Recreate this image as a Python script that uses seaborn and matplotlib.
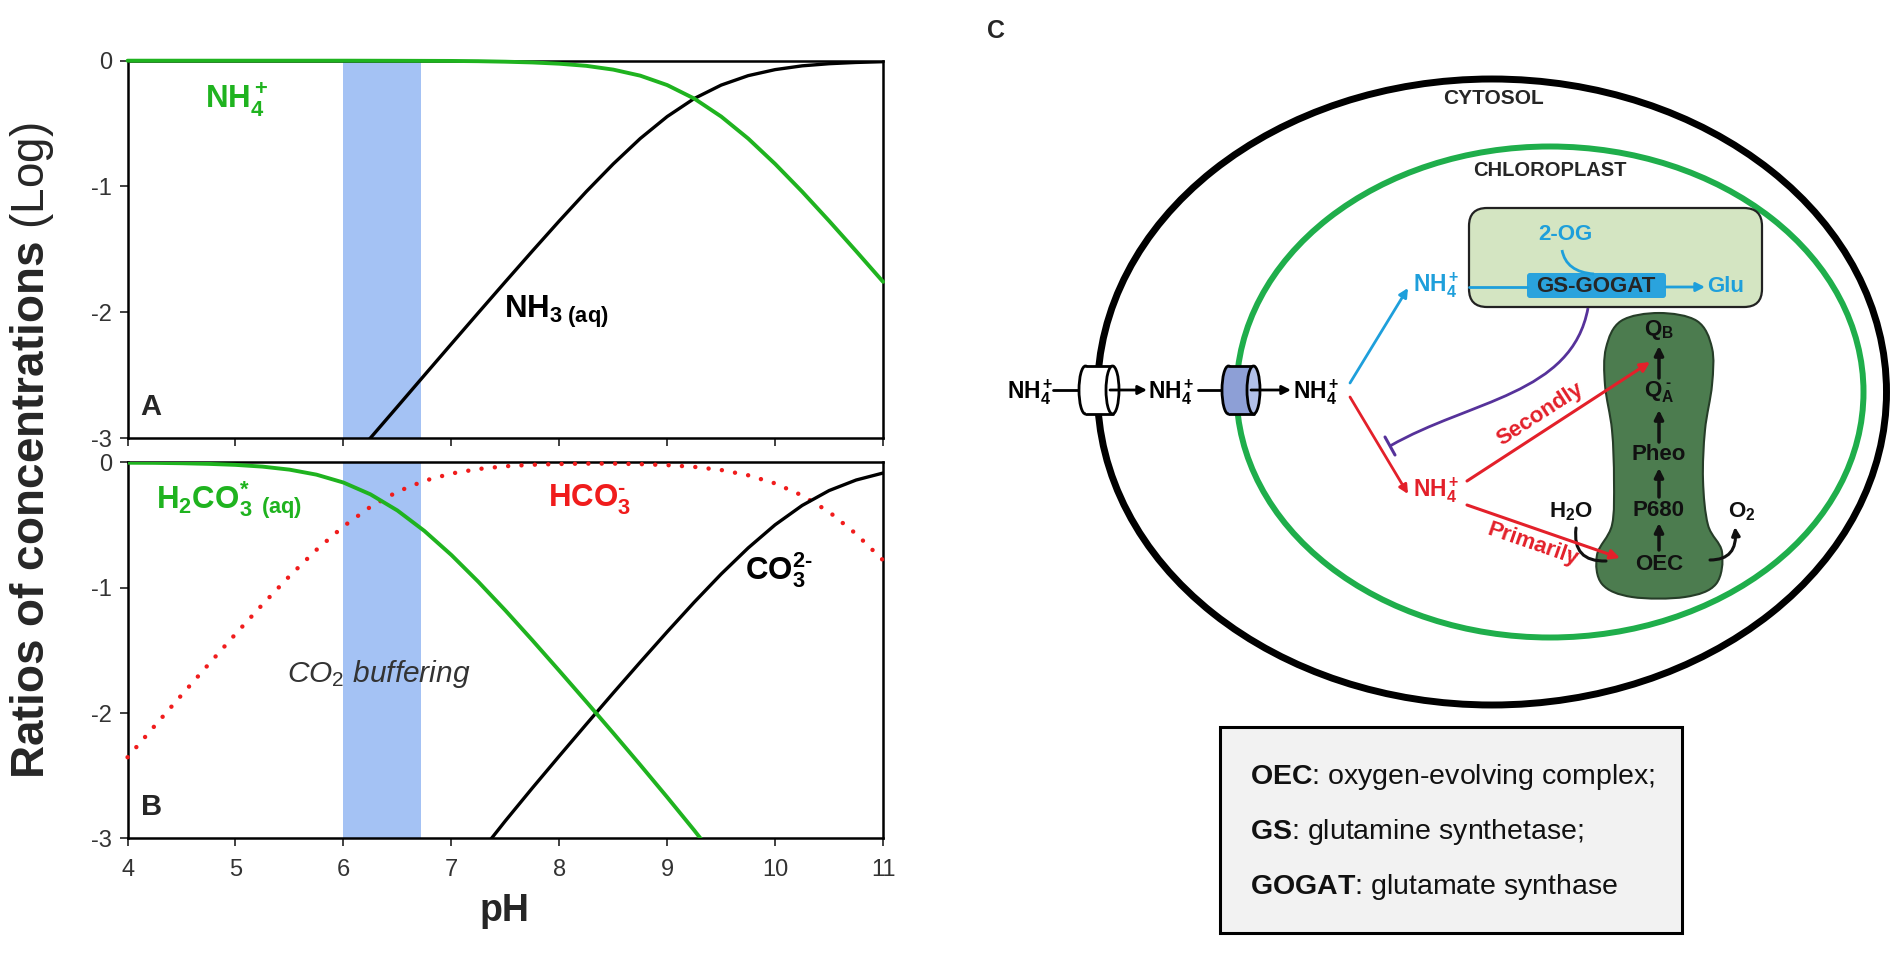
import numpy as np
import pandas as pd
import matplotlib
matplotlib.use("Agg")
import matplotlib.pyplot as plt
import seaborn as sns
from matplotlib.patches import Ellipse, FancyBboxPatch, Rectangle, PathPatch, FancyArrowPatch
from matplotlib.path import Path

# ---------------- data ----------------
ph_full = [4.0, 4.25, 4.5, 4.75, 5.0, 5.25, 5.5, 5.75, 6.0, 6.25, 6.5, 6.75, 7.0, 7.25, 7.5,
           7.75, 8.0, 8.25, 8.5, 8.75, 9.0, 9.25, 9.5, 9.75, 10.0, 10.25, 10.5, 10.75, 11.0]
nh4_log = [0.0, 0.0, 0.0, 0.0, 0.0, 0.0, 0.0, 0.0, 0.0, -0.0004, -0.0008, -0.0014, -0.002,
           -0.004, -0.008, -0.014, -0.024, -0.041, -0.071, -0.119, -0.194, -0.301, -0.444,
           -0.619, -0.821, -1.041, -1.274, -1.514, -1.758]
ph_nh3 = [6.0, 6.25, 6.5, 6.75, 7.0, 7.25, 7.5, 7.75, 8.0, 8.25, 8.5, 8.75, 9.0, 9.25, 9.5,
          9.75, 10.0, 10.25, 10.5, 10.75, 11.0]
nh3_log = [-3.250, -3.000, -2.751, -2.501, -2.252, -2.004, -1.758, -1.514, -1.274, -1.041,
           -0.821, -0.619, -0.444, -0.301, -0.194, -0.119, -0.071, -0.041, -0.024, -0.014, -0.008]

ph_h2co3 = [4.0, 4.25, 4.5, 4.75, 5.0, 5.25, 5.5, 5.75, 6.0, 6.25, 6.5, 6.75, 7.0, 7.25, 7.5,
            7.75, 8.0, 8.25, 8.5, 8.75, 9.0, 9.25, 9.5]
h2co3_log = [-0.002, -0.003, -0.006, -0.011, -0.019, -0.033, -0.057, -0.097, -0.160, -0.254,
             -0.383, -0.546, -0.738, -0.952, -1.180, -1.418, -1.662, -1.909, -2.159, -2.413,
             -2.671, -2.935, -3.210]
hco3_log = [-2.352, -2.103, -1.856, -1.611, -1.369, -1.133, -0.907, -0.697, -0.510, -0.354,
            -0.233, -0.146, -0.088, -0.052, -0.030, -0.018, -0.012, -0.009, -0.009, -0.013,
            -0.021, -0.035, -0.060, -0.102, -0.167, -0.263, -0.394, -0.570, -0.780]
ph_co3 = [7.25, 7.5, 7.75, 8.0, 8.25, 8.5, 8.75, 9.0, 9.25, 9.5, 9.75, 10.0, 10.25, 10.5,
          10.75, 11.0]
co3_log = [-3.132, -2.860, -2.598, -2.342, -2.089, -1.839, -1.593, -1.351, -1.115, -0.890,
           -0.682, -0.497, -0.343, -0.224, -0.140, -0.084]

buffer_range = [6.0, 6.72]
x_ticks = [4, 5, 6, 7, 8, 9, 10, 11]
y_ticks = [0, -1, -2, -3]
y_ticklabels = ["0", "-1", "-2", "-3"]

HY = "\u2010"  # short hyphen used for charges
legend_terms = ["OEC", "GS", "GOGAT"]
legend_defs = ["oxygen-evolving complex;", "glutamine synthetase;", "glutamate synthase"]
ps_chain = [r"$\mathbf{Q_B}$", r"$\mathbf{Q_A^{\ " + HY + r"}}$", "Pheo", "P680", "OEC"]

# ---------------- style ----------------
sns.set_theme(style="ticks")
plt.rcParams['font.family'] = ['Liberation Sans', 'DejaVu Sans']
plt.rcParams['mathtext.fontset'] = 'custom'
plt.rcParams['mathtext.rm'] = 'Liberation Sans'
plt.rcParams['mathtext.it'] = 'Liberation Sans:italic'
plt.rcParams['mathtext.bf'] = 'Liberation Sans:bold'
plt.rcParams['axes.unicode_minus'] = False

GREEN = '#1fb31f'
RED = '#f01c1c'
BAND = '#a4c2f4'
LBL = 22.5

fig = plt.figure(figsize=(19.04, 9.71), dpi=100)
axA = fig.add_axes([0.0670, 0.5489, 0.3968, 0.3886])
axB = fig.add_axes([0.0670, 0.1365, 0.3968, 0.3872])

for ax in (axA, axB):
    ax.set_facecolor('white')
    ax.axvspan(buffer_range[0], buffer_range[1], color=BAND, lw=0, zorder=0)
    ax.set_xlim(4, 11)
    ax.set_ylim(-3, 0)
    ax.set_xticks(x_ticks)
    ax.set_yticks(y_ticks)
    ax.set_yticklabels(y_ticklabels)
    for s in ax.spines.values():
        s.set_visible(True)
        s.set_linewidth(1.8)
        s.set_color('black')
    ax.tick_params(axis='both', direction='out', length=6, width=1.3, colors='#333333',
                   labelsize=17, pad=5)
    ax.set_xlabel('')
    ax.set_ylabel('')
    ax.grid(False)

axA.tick_params(axis='x', labelbottom=False)
axB.tick_params(axis='x', pad=9)

# Panel A curves
sns.lineplot(x=ph_full, y=nh4_log, ax=axA, color=GREEN, lw=2.8, clip_on=False, zorder=4)
sns.lineplot(x=ph_nh3, y=nh3_log, ax=axA, color='black', lw=2.4, zorder=3)
axA.text(4.72, -0.31, r"$\mathbf{NH_4^+}$", color=GREEN, fontsize=LBL, ha='left', va='center')
axA.text(7.49, -2.0, r"$\mathbf{NH_{3\ (aq)}}$", color='black', fontsize=LBL, ha='left', va='center')
axA.text(4.12, -2.75, "A", fontsize=21, fontweight='bold', ha='left', va='center')

# Panel B curves
sns.lineplot(x=ph_h2co3, y=h2co3_log, ax=axB, color=GREEN, lw=2.8, zorder=4)
sns.lineplot(x=ph_full, y=hco3_log, ax=axB, color=RED, lw=3.2, clip_on=False, zorder=3,
             linestyle=(0, (0.01, 3.0)), dash_capstyle='round')
sns.lineplot(x=ph_co3, y=co3_log, ax=axB, color='black', lw=2.4, zorder=3)
axB.text(4.26, -0.30, r"$\mathbf{H_2CO_3^{*}\ {}_{(aq)}}$", color=GREEN, fontsize=LBL,
         ha='left', va='center')
axB.text(7.90, -0.30, r"$\mathbf{HCO_3^{" + HY + r"}}$", color=RED, fontsize=LBL,
         ha='left', va='center')
axB.text(9.72, -0.86, r"$\mathbf{CO_3^{2" + HY + r"}}$", color='black', fontsize=LBL,
         ha='left', va='center')
axB.text(5.48, -1.69, r"$\mathit{CO_2\ buffering}$", color='#333333', fontsize=21.5,
         ha='left', va='center')
axB.text(4.12, -2.75, "B", fontsize=21, fontweight='bold', ha='left', va='center')

fig.text(32 / 1904, 1 - 451 / 971, r"$\mathbf{Ratios\ of\ concentrations}$ (Log)",
         rotation=90, ha='center', va='center', fontsize=33)
fig.text(504 / 1904, 1 - 911 / 971, "pH", fontweight='bold', ha='center', va='center', fontsize=27)

# ---------------- Panel C : diagram in pixel coordinates ----------------
axC = fig.add_axes([0, 0, 1, 1])
axC.set_xlim(0, 1904)
axC.set_ylim(971, 0)
axC.axis('off')
axC.patch.set_visible(False)

BLUE = '#1e9fdb'
DRED = '#e3202a'
PURPLE = '#56329a'
CGREEN = '#1fae4b'

axC.text(996, 31, "C", fontsize=18, fontweight='bold', ha='center', va='center')

axC.add_patch(Ellipse((1492, 392), 789, 626, fill=False, lw=5.0, ec='black', zorder=1))
axC.add_patch(Ellipse((1550, 392), 627, 491, fill=False, lw=4.3, ec=CGREEN, zorder=1))
axC.text(1494, 98, "CYTOSOL", fontsize=15, fontweight='bold', ha='center', va='center')
axC.text(1550, 170, "CHLOROPLAST", fontsize=14.5, fontweight='bold', ha='center', va='center')

# GS-GOGAT box
axC.add_patch(FancyBboxPatch((1469, 208), 293, 99, boxstyle="round,pad=0,rounding_size=18",
                             fc='#d4e5c2', ec='#222222', lw=1.6, zorder=2))
axC.add_patch(FancyBboxPatch((1527, 273), 139, 25, boxstyle="round,pad=0,rounding_size=3",
                             fc='#2aa3dd', ec='none', zorder=3))
axC.text(1596, 286, "GS-GOGAT", fontsize=16, fontweight='bold', ha='center', va='center', zorder=4)
axC.plot([1469, 1527], [287, 287], color=BLUE, lw=2, zorder=3)
axC.add_patch(FancyArrowPatch((1666, 287), (1705, 287), arrowstyle='-|>', mutation_scale=13,
                              color=BLUE, lw=2, shrinkA=0, shrinkB=0, zorder=3))
axC.text(1707, 287, "Glu", fontsize=16, fontweight='bold', color=BLUE, ha='left', va='center')
axC.text(1565, 235, "2-OG", fontsize=16, fontweight='bold', color=BLUE, ha='center', va='center')
axC.add_patch(PathPatch(Path([(1562, 250), (1566, 272), (1594, 274)],
                             [Path.MOVETO, Path.CURVE3, Path.CURVE3]),
                        fill=False, ec=BLUE, lw=2, zorder=3))

nh4 = r"$\mathbf{NH_4^+}$"
axC.text(1413, 285, nh4, fontsize=16.5, color=BLUE, ha='left', va='center')
axC.add_patch(FancyArrowPatch((1350, 383), (1408, 288), arrowstyle='-|>', mutation_scale=13,
                              color=BLUE, lw=2, shrinkA=0, shrinkB=0, zorder=3))

# transport chain across membranes
axC.text(1007, 392, nh4, fontsize=16.5, color='black', ha='left', va='center', zorder=4)
axC.text(1148, 392, nh4, fontsize=16.5, color='black', ha='left', va='center', zorder=4)
axC.text(1293, 392, nh4, fontsize=16.5, color='black', ha='left', va='center', zorder=4)


def cylinder(x0, x1, y0, y1, body, face):
    h = y1 - y0
    w = 13
    axC.add_patch(Ellipse((x0 + w / 2, (y0 + y1) / 2), w, h, fc=body, ec='black', lw=2, zorder=5))
    axC.add_patch(Rectangle((x0 + w / 2, y0), (x1 - x0) - w, h, fc=body, ec='none', zorder=5))
    axC.plot([x0 + w / 2, x1 - w / 2], [y0, y0], color='black', lw=2, zorder=6)
    axC.plot([x0 + w / 2, x1 - w / 2], [y1, y1], color='black', lw=2, zorder=6)
    axC.add_patch(Ellipse((x1 - w / 2, (y0 + y1) / 2), w, h, fc=face, ec='black', lw=2, zorder=6))


cylinder(1079, 1119, 366, 414, 'white', 'white')
cylinder(1222, 1260, 366, 414, '#8d9fd6', '#b2c1ea')
axC.plot([1053, 1081], [390, 390], color='black', lw=2, zorder=4)
axC.plot([1198, 1224], [390, 390], color='black', lw=2, zorder=4)
axC.add_patch(FancyArrowPatch((1110, 390), (1147, 390), arrowstyle='-|>', mutation_scale=13,
                              color='black', lw=2, shrinkA=0, shrinkB=0, zorder=7))
axC.add_patch(FancyArrowPatch((1251, 390), (1291, 390), arrowstyle='-|>', mutation_scale=13,
                              color='black', lw=2, shrinkA=0, shrinkB=0, zorder=7))

# red path
axC.add_patch(FancyArrowPatch((1350, 397), (1408, 494), arrowstyle='-|>', mutation_scale=13,
                              color=DRED, lw=2, shrinkA=0, shrinkB=0, zorder=3))
axC.text(1413, 490, nh4, fontsize=16.5, color=DRED, ha='left', va='center')

# purple inhibition
axC.add_patch(PathPatch(Path([(1588, 308), (1572, 395), (1470, 400), (1390, 446)],
                             [Path.MOVETO, Path.CURVE4, Path.CURVE4, Path.CURVE4]),
                        fill=False, ec=PURPLE, lw=2, zorder=3))
axC.plot([1385, 1395], [437, 455], color=PURPLE, lw=2.2, zorder=3)


# photosystem II
def smooth_closed(pts):
    P = np.array(pts, float)
    n = len(P)
    verts = [P[0]]
    codes = [Path.MOVETO]
    for i in range(n):
        p0, p1, p2, p3 = P[i - 1], P[i], P[(i + 1) % n], P[(i + 2) % n]
        verts += [p1 + (p2 - p0) / 6, p2 - (p3 - p1) / 6, p2]
        codes += [Path.CURVE4] * 3
    return Path(verts, codes)


ps_outline = [(1659, 313), (1697, 321), (1712, 348), (1712, 385), (1705, 430), (1703, 480),
              (1708, 525), (1722, 552), (1716, 584), (1685, 597), (1632, 597), (1602, 584),
              (1597, 555), (1612, 525), (1614, 480), (1612, 430), (1605, 385), (1606, 348),
              (1621, 321)]
axC.add_patch(PathPatch(smooth_closed(ps_outline), fc='#4c7c4f', ec='#263d28', lw=1.5, zorder=2))

ps_y = [330, 392, 455, 510, 564]
for lab, yy in zip(ps_chain, ps_y):
    axC.text(1659, yy, lab, fontsize=16, fontweight='bold', color='#111111',
             ha='center', va='center', zorder=4)
for y_from, y_to in [(378, 346), (442, 410), (497, 468), (550, 523)]:
    axC.add_patch(FancyArrowPatch((1659, y_from), (1659, y_to), arrowstyle='-|>',
                                  mutation_scale=13, color='#111111', lw=2.5,
                                  shrinkA=0, shrinkB=0, zorder=4))

# Secondly / Primarily
axC.add_patch(FancyArrowPatch((1467, 481), (1650, 362), arrowstyle='-|>', mutation_scale=14,
                              color=DRED, lw=2.2, shrinkA=0, shrinkB=0, zorder=5))
axC.text(1540, 414, "Secondly", rotation=33, rotation_mode='anchor', fontsize=16,
         fontweight='bold', color=DRED, ha='center', va='center', zorder=5)
axC.add_patch(FancyArrowPatch((1467, 505), (1620, 558), arrowstyle='-|>', mutation_scale=14,
                              color=DRED, lw=2.2, shrinkA=0, shrinkB=0, zorder=5))
axC.text(1533, 545, "Primarily", rotation=-19, rotation_mode='anchor', fontsize=16,
         fontweight='bold', color=DRED, ha='center', va='center', zorder=5)

axC.text(1571, 512, r"$\mathbf{H_2O}$", fontsize=16, color='#111111', ha='center', va='center')
axC.text(1742, 512, r"$\mathbf{O_2}$", fontsize=16, color='#111111', ha='center', va='center')
axC.add_patch(FancyArrowPatch(path=Path([(1576, 528), (1572, 562), (1606, 561)],
                                        [Path.MOVETO, Path.CURVE3, Path.CURVE3]),
                              arrowstyle='-', color='#111111', lw=2.2, zorder=3))
axC.add_patch(FancyArrowPatch(path=Path([(1710, 560), (1738, 560), (1735, 527)],
                                        [Path.MOVETO, Path.CURVE3, Path.CURVE3]),
                              arrowstyle='-|>', mutation_scale=12, color='#111111', lw=2.2,
                              zorder=3))

# legend box
axC.add_patch(Rectangle((1220, 727), 462, 206, fc='#f2f2f2', ec='black', lw=2.2, zorder=2))
for i, (term, desc) in enumerate(zip(legend_terms, legend_defs)):
    axC.text(1250, 784 + 55 * i, r"$\mathbf{%s}$: %s" % (term, desc), fontsize=20.5,
             ha='left', va='baseline', color='#111111', zorder=3)

fig.savefig("out.png", dpi=100, facecolor='white')
